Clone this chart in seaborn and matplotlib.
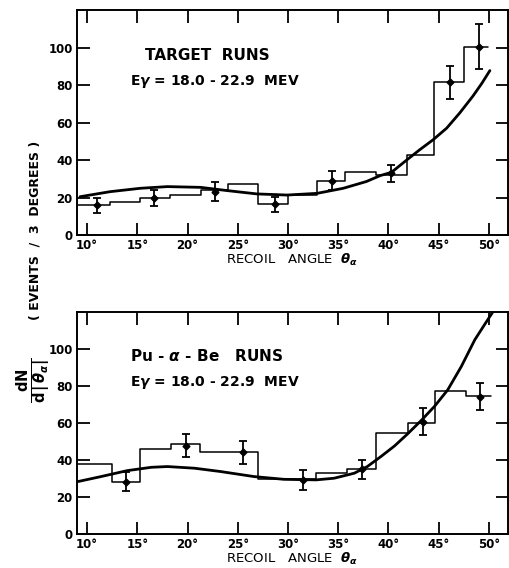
import numpy as np
import seaborn as sns
import matplotlib.pyplot as plt

# ---- top panel: target runs ----
top_edges = [9.0, 12.3, 15.3, 18.3, 21.3, 24.0, 27.0, 30.0, 32.9, 35.7, 38.8, 41.8, 44.5, 47.5, 49.9]
top_counts = [16.0, 17.9, 19.6, 21.4, 24.0, 27.3, 16.6, 21.5, 29.1, 33.9, 32.1, 42.5, 81.6, 100.4]
top_pt_x = [11.0, 16.7, 22.7, 28.7, 34.4, 40.3, 46.1, 49.0]
top_pt_y = [16.0, 20.0, 23.2, 16.6, 29.1, 33.0, 81.6, 100.4]
top_pt_err = [4.0, 4.3, 5.2, 4.0, 5.0, 4.6, 8.7, 12.0]
top_fit_x = [9.3, 12.3, 15.3, 18.0, 21.3, 23.9, 26.9, 29.9, 32.9, 35.5, 37.8, 39.2, 40.3,
             41.8, 43.1, 44.45, 45.8, 47.1, 48.4, 49.3, 50.1]
top_fit_y = [20.5, 23.2, 25.0, 25.9, 25.5, 23.8, 22.0, 21.4, 22.3, 25.0, 28.6, 31.8, 33.5,
             40.0, 45.5, 50.9, 57.1, 65.2, 74.1, 81.0, 87.8]

# ---- bottom panel: Pu-alpha-Be runs ----
bot_edges = [9.0, 12.5, 15.3, 18.35, 21.2, 24.1, 27.0, 29.9, 32.8, 35.9, 38.8, 41.9, 44.6, 47.7, 50.2]
bot_counts = [37.7, 28.1, 45.9, 48.5, 44.0, 44.0, 29.6, 29.6, 33.1, 35.0, 54.4, 60.2, 77.3, 74.6]
bot_pt_x = [13.9, 19.8, 25.5, 31.5, 37.4, 43.4, 49.1]
bot_pt_y = [28.3, 47.7, 44.0, 29.2, 35.0, 60.7, 74.2]
bot_pt_err = [4.9, 6.3, 6.4, 5.4, 5.2, 7.2, 7.2]
bot_fit_x = [9.1, 11.4, 14.0, 16.4, 18.0, 20.7, 23.3, 26.6, 29.6, 32.8, 34.6, 36.6, 37.9,
             39.3, 40.6, 41.9, 43.3, 44.6, 45.9, 47.25, 48.6, 49.5, 50.4]
bot_fit_y = [28.3, 31.0, 34.2, 36.0, 36.4, 35.5, 33.7, 31.0, 29.5, 29.2, 30.1, 32.8, 36.4,
             42.0, 47.5, 54.0, 61.5, 69.0, 77.8, 90.4, 104.9, 112.5, 120.0]

x_ticks = [10, 15, 20, 25, 30, 35, 40, 45, 50]
x_tick_labels = [f"{t}°" for t in x_ticks]
y_ticks = [0, 20, 40, 60, 80, 100]

sns.set_style("ticks")
plt.rcParams['font.family'] = ['DejaVu Sans']
plt.rcParams['font.weight'] = 'bold'
for key in ['text.color', 'axes.labelcolor', 'xtick.color', 'ytick.color', 'axes.edgecolor']:
    plt.rcParams[key] = 'black'

fig = plt.figure(figsize=(5.1, 5.68), dpi=100)
ax_top = fig.add_axes([0.151, 0.586, 0.845, 0.396])
ax_bot = fig.add_axes([0.151, 0.060, 0.845, 0.391])


def draw_panel(ax, edges, counts, px, py, perr, fx, fy, title, title_x):
    centers = [(a + b) / 2 for a, b in zip(edges[:-1], edges[1:])]
    sns.histplot(x=centers, weights=counts, bins=edges, element='step', fill=False,
                 color='black', linewidth=1.1, ax=ax)
    sns.lineplot(x=fx, y=fy, color='black', linewidth=2.0, ax=ax)
    ax.errorbar(px, py, yerr=perr, fmt='D', ms=3.5, color='black',
                capsize=3, elinewidth=1.3, capthick=1.3)
    ax.set_xlim(9.0, 51.9)
    ax.set_ylim(0, 120)
    ax.set_xticks(x_ticks)
    ax.set_xticklabels(x_tick_labels)
    ax.set_yticks(y_ticks)
    ax.tick_params(direction='in', length=9, width=1.3, top=True, right=True,
                   labelsize=8.5, pad=3)
    for s in ax.spines.values():
        s.set_linewidth(1.4)
    ax.set_ylabel('')
    ax.set_xlabel(r'RECOIL   ANGLE  $\theta_\alpha$', fontsize=9.5, labelpad=0)
    ax.text(title_x, 96, title, fontsize=11, ha='left', va='center')
    ax.text(14.3, 82, r'E$\gamma$ = 18.0 - 22.9  MEV', fontsize=10, ha='left', va='center')


draw_panel(ax_top, top_edges, top_counts, top_pt_x, top_pt_y, top_pt_err,
           top_fit_x, top_fit_y, 'TARGET  RUNS', 15.8)
draw_panel(ax_bot, bot_edges, bot_counts, bot_pt_x, bot_pt_y, bot_pt_err,
           bot_fit_x, bot_fit_y, r'Pu - $\alpha$ - Be   RUNS', 14.3)

fig.text(0.068, 0.595, '( EVENTS  /  3  DEGREES )', rotation=90, fontsize=9,
         ha='center', va='center')
fig.text(0.068, 0.33, r'$\frac{\mathrm{dN}}{\mathrm{d}\,|\,\theta_\alpha|}$', rotation=90,
         fontsize=15, ha='center', va='center')

fig.savefig('out.png', dpi=100)
